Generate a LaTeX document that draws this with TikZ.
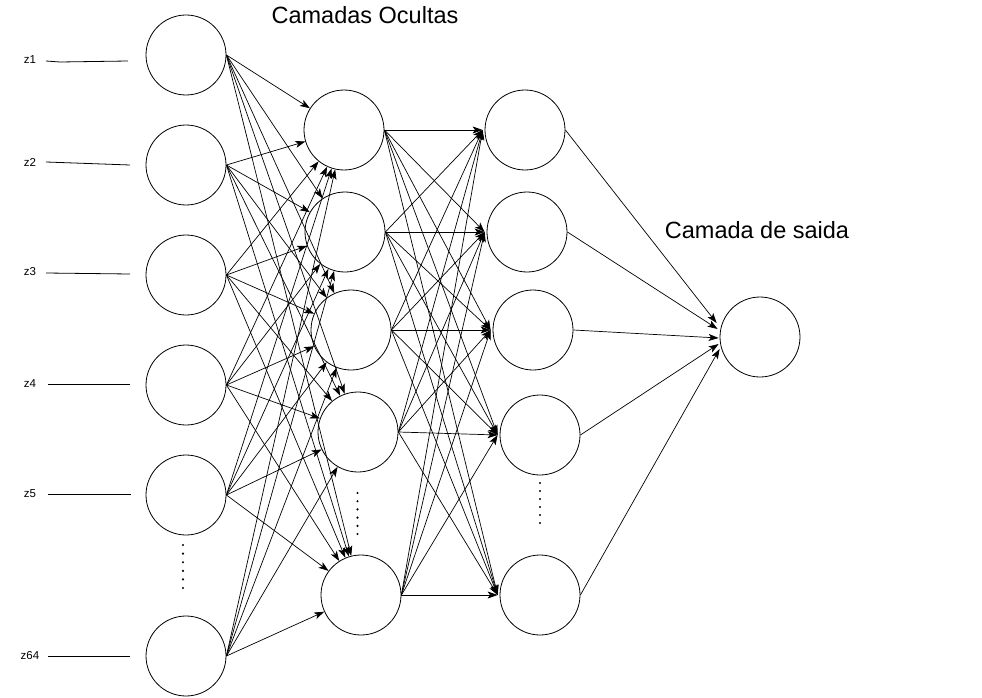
\documentclass[tikz,border=0pt]{standalone}
\usepackage{fontspec}
\setmainfont{Liberation Sans}
\usetikzlibrary{arrows.meta,calc}
\begin{document}
\begin{tikzpicture}[x=1pt,y=-1pt,
  neuron/.style={circle,draw,line width=0.8pt,minimum size=80pt,inner sep=0pt},
  conn/.style={line width=0.7pt,-{Stealth[length=10pt,width=7pt,inset=2.5pt]}},
  inline/.style={line width=0.8pt},
  zlabel/.style={font=\fontsize{11.5}{13}\selectfont,inner sep=0pt},
  title/.style={font=\fontsize{23.5}{28}\selectfont,inner sep=0pt},
  dotmark/.style={fill=black,draw=none}]
\useasboundingbox (0,0) rectangle (982,698);
% input layer
\node[neuron] (i1) at (186,55) {};
\node[neuron] (i2) at (186,165) {};
\node[neuron] (i3) at (186,275) {};
\node[neuron] (i4) at (186,385) {};
\node[neuron] (i5) at (186,495) {};
\node[neuron] (i6) at (186,656) {};
% hidden layer 1
\node[neuron] (a1) at (344,130) {};
\node[neuron] (a2) at (345,232) {};
\node[neuron] (a3) at (351,330) {};
\node[neuron] (a4) at (358,432) {};
\node[neuron] (a5) at (361,595) {};
% hidden layer 2
\node[neuron] (b1) at (525,130) {};
\node[neuron] (b2) at (527,232) {};
\node[neuron] (b3) at (533,330) {};
\node[neuron] (b4) at (540,435) {};
\node[neuron] (b5) at (540,595) {};
% output
\node[neuron] (o) at (760,337) {};
% titles
\node[title] (t1) at (365,15) {Camadas Ocultas};
\node[title] (t2) at (757,230) {Camada de saida};
% input labels and lines
\node[zlabel] (z1) at (30,60) {z1};
\node[zlabel] (z2) at (30,162) {z2};
\node[zlabel] (z3) at (30,272) {z3};
\node[zlabel] (z4) at (30,384) {z4};
\node[zlabel] (z5) at (30,494) {z5};
\node[zlabel] (z64) at (30,656) {z64};
\coordinate (e1) at (128,61);
\coordinate (e2) at (130,165);
\coordinate (e3) at (130,274);
\coordinate (e4) at (130,384);
\coordinate (e5) at (131,494);
\coordinate (e6) at (130,656);
\draw[inline] (46,61) -- (60,62) -- (e1);
\draw[inline] (46,162) -- (e2);
\draw[inline] (46,273) -- (e3);
\draw[inline] (48,384) -- (e4);
\draw[inline] (48,494) -- (e5);
\draw[inline] (48,656) -- (e6);
% input -> hidden 1
\foreach \s in {i1,i2,i3,i4,i5,i6}
  \foreach \t in {a1,a2,a3,a4,a5}
    \draw[conn] (\s.east) -- (\t);
% hidden 1 -> hidden 2
\foreach \s in {a1,a2,a3,a4,a5}
  \foreach \t in {b1,b2,b3,b4,b5}
    \draw[conn] (\s.east) -- ($(\t.west)+(-2,0)$);
% hidden 2 -> output
\draw[conn] (b1.east) -- ($(o.west)+(-3,-14)$);
\draw[conn] (b2.east) -- ($(o.west)+(-2,-8)$);
\draw[conn] (b3.east) -- ($(o.west)+(-1,1)$);
\draw[conn] (b4.east) -- ($(o.west)+(-1,7)$);
\draw[conn] (b5.east) -- ($(o.west)+(0,12)$);
% dots
\foreach \k in {0,...,5} {
  \fill[dotmark] (183,545+8.6*\k) circle (1.2);
  \fill[dotmark] (357.5,493+8.2*\k) circle (1.2);
  \fill[dotmark] (540,483+8*\k) circle (1.2);
}
\end{tikzpicture}
\end{document}
